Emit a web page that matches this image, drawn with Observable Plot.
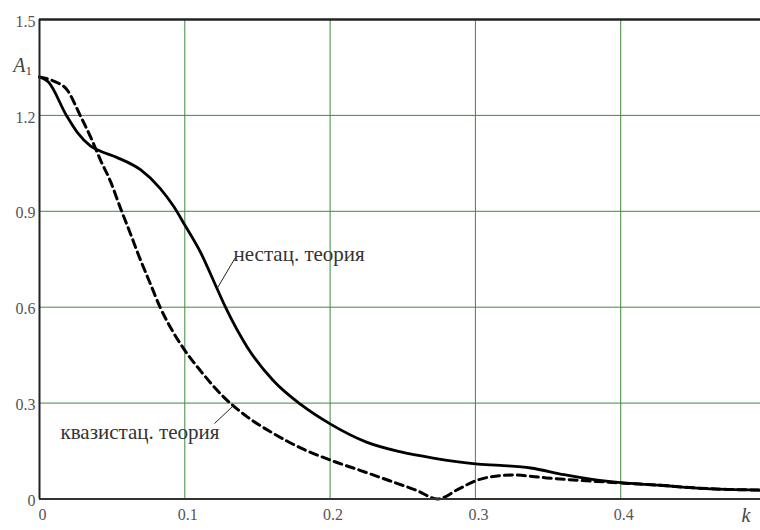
<!DOCTYPE html>
<html>
<head>
<meta charset="utf-8">
<script src="https://cdn.jsdelivr.net/npm/d3@7"></script>
<script src="https://cdn.jsdelivr.net/npm/@observablehq/plot@0.6"></script>
<style>
  html, body { margin: 0; padding: 0; background: #fff; }
  #chart { width: 760px; height: 530px; }
  #chart svg, #chart svg text { font-family: "Liberation Serif", "Times New Roman", serif !important; }
</style>
</head>
<body>
<div id="chart"></div>
<script>
// Non-stationary theory (solid)
const kSolid = [0, 0.006, 0.0185, 0.026, 0.035, 0.042, 0.0535, 0.0695, 0.083, 0.0924, 0.1, 0.111, 0.122, 0.128, 0.143, 0.161, 0.18, 0.2, 0.225, 0.248, 0.271, 0.3, 0.317, 0.338, 0.361, 0.384, 0.4, 0.427, 0.45, 0.473, 0.4962];
const aSolid = [1.32, 1.305, 1.2, 1.147, 1.105, 1.088, 1.068, 1.03, 0.972, 0.915, 0.857, 0.77, 0.66, 0.6, 0.475, 0.37, 0.295, 0.235, 0.178, 0.148, 0.128, 0.11, 0.105, 0.097, 0.076, 0.059, 0.051, 0.043, 0.035, 0.03, 0.028];
// Quasi-stationary theory (dashed)
const kDashed = [0, 0.0098, 0.019, 0.028, 0.035, 0.042, 0.049, 0.0557, 0.0626, 0.068, 0.0764, 0.083, 0.092, 0.1, 0.111, 0.127, 0.143, 0.161, 0.182, 0.2, 0.221, 0.241, 0.26, 0.274, 0.288, 0.3, 0.317, 0.326, 0.349, 0.372, 0.39, 0.4, 0.427, 0.45, 0.473, 0.4962];
const aDashed = [1.32, 1.307, 1.28, 1.2, 1.134, 1.06, 0.992, 0.91, 0.83, 0.765, 0.672, 0.6, 0.522, 0.465, 0.4, 0.318, 0.257, 0.205, 0.155, 0.122, 0.089, 0.057, 0.026, 0.0, 0.03, 0.057, 0.073, 0.075, 0.066, 0.058, 0.053, 0.05, 0.043, 0.035, 0.03, 0.028];

const xTicks = [0, 0.1, 0.2, 0.3, 0.4];
const xTickLabels = ["0", "0.1", "0.2", "0.3", "0.4"];
const yTicks = [0, 0.3, 0.6, 0.9, 1.2, 1.5];
const yTickLabels = ["0", "0.3", "0.6", "0.9", "1.2", "1.5"];
const xGrid = [0.1, 0.2, 0.3, 0.4];
const yGrid = [0.3, 0.6, 0.9, 1.2];

// annotation labels and leader lines (data coordinates)
const labelText = ["нестац. теория", "квазистац. теория"];
const labelK = [0.1335, 0.01445];
const labelA = [0.767, 0.210];
const leaderK1 = [0.1223, 0.1204];
const leaderA1 = [0.659, 0.236];
const leaderK2 = [0.1349, 0.1335];
const leaderA2 = [0.756, 0.292];

const solid = kSolid.map((k, i) => ({k, a: aSolid[i]}));
const dashed = kDashed.map((k, i) => ({k, a: aDashed[i]}));
const labels = labelText.map((t, i) => ({t, k: labelK[i], a: labelA[i]}));
const leaders = labelText.map((t, i) => ({k1: leaderK1[i], a1: leaderA1[i], k2: leaderK2[i], a2: leaderA2[i]}));

const gridColor = "#3f8a3f";
const fontFam = "'Liberation Serif', 'Times New Roman', serif";

const chart = Plot.plot({
  width: 760,
  height: 530,
  marginLeft: 39,
  marginRight: 0,
  marginTop: 19,
  marginBottom: 31.5,
  style: {fontFamily: fontFam, background: "white", overflow: "visible"},
  x: {domain: [0, 0.4962], axis: null},
  y: {domain: [0, 1.5], axis: null},
  marks: [
    Plot.ruleX(xGrid, {stroke: gridColor, strokeWidth: 1}),
    Plot.ruleY(yGrid, {stroke: gridColor, strokeWidth: 1}),
    Plot.axisX(xTicks, {tickSize: 0, tickPadding: 10, dx: 3, fontSize: 16, fill: "#555", fontFamily: fontFam, tickFormat: (d, i) => xTickLabels[i], label: null}),
    Plot.axisY(yTicks, {tickSize: 0, tickPadding: 4, dy: 2, fontSize: 16, fill: "#555", fontFamily: fontFam, tickFormat: (d, i) => yTickLabels[i], label: null}),
    Plot.line(dashed, {x: "k", y: "a", curve: "monotone-x", stroke: "black", strokeWidth: 3, strokeDasharray: "8,5"}),
    Plot.line(solid, {x: "k", y: "a", curve: "monotone-x", stroke: "black", strokeWidth: 2.8}),
    Plot.ruleY([0], {stroke: "#333", strokeWidth: 2}),
    Plot.ruleY([1.5], {stroke: "#222", strokeWidth: 2.5}),
    Plot.ruleX([0], {stroke: "#222", strokeWidth: 2}),
    Plot.link(leaders, {x1: "k1", y1: "a1", x2: "k2", y2: "a2", stroke: "#222", strokeWidth: 1}),
    Plot.text(labels, {x: "k", y: "a", text: "t", textAnchor: "start", fontSize: 21, fill: "#333", fontFamily: fontFam}),
    Plot.text(["A"], {frameAnchor: "top-left", textAnchor: "start", dx: -26.3, dy: 38.5, fontSize: 20, fontStyle: "italic", fill: "#444", fontFamily: fontFam}),
    Plot.text(["1"], {frameAnchor: "top-left", textAnchor: "start", dx: -14, dy: 46.2, fontSize: 13, fill: "#444", fontFamily: fontFam}),
    Plot.text(["k"], {frameAnchor: "bottom-right", textAnchor: "start", dx: -19, dy: 22.5, fontSize: 20, fontStyle: "italic", fill: "#444", fontFamily: fontFam})
  ]
});
document.getElementById("chart").appendChild(chart);
</script>
</body>
</html>
